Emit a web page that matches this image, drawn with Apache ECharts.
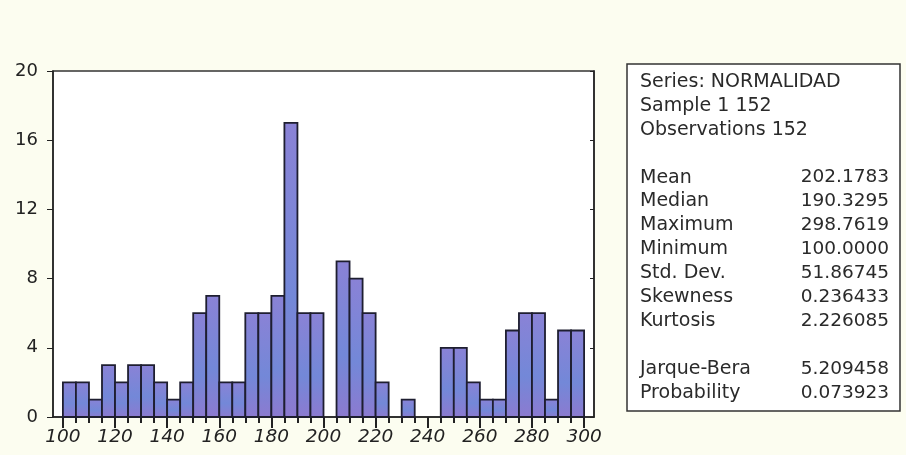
<!DOCTYPE html>
<html>
<head>
<meta charset="utf-8">
<script src="https://cdn.jsdelivr.net/npm/echarts@6/dist/echarts.min.js"></script>
<style>
  html, body { margin: 0; padding: 0; background: #fcfdf0; }
  #chart { width: 906px; height: 455px; }
</style>
</head>
<body>
<div id="chart"></div>
<script>
// histogram bins: 100..300, width 5
const binStart = 100
const binWidth = 5
const counts = [2, 2, 1, 3, 2, 3, 3, 2, 1, 2,
                6, 7, 2, 2, 6, 6, 7, 17, 6, 6,
                0, 9, 8, 6, 2, 0, 1, 0, 0, 4,
                4, 2, 1, 1, 5, 6, 6, 1, 5, 5]
const xLabelTicks = [100, 120, 140, 160, 180, 200, 220, 240, 260, 280, 300]
const yLabelTicks = [0, 4, 8, 12, 16, 20]

// stats box
const statHeader = ['Series: NORMALIDAD', 'Sample 1 152', 'Observations 152']
const statNames = ['Mean', 'Median', 'Maximum', 'Minimum', 'Std. Dev.', 'Skewness', 'Kurtosis', '', 'Jarque-Bera', 'Probability']
const statValues = ['202.1783', '190.3295', '298.7619', '100.0000', '51.86745', '0.236433', '2.226085', '', '5.209458', '0.073923']

const bins = counts.map((c, i) => [binStart + i * binWidth, binStart + (i + 1) * binWidth, c])
const minorTicks = counts.map((c, i) => binStart + i * binWidth).concat([binStart + counts.length * binWidth])

const font = '"DejaVu Sans", Verdana, sans-serif'
const chart = echarts.init(document.getElementById('chart'))

const graphics = [{
  type: 'rect',
  shape: { x: 627, y: 64, width: 273, height: 347 },
  style: { fill: '#ffffff', stroke: '#333', lineWidth: 1.5 }
}]
const lineH = 23.9
const rows = statHeader.map(t => [t, '']).concat([['', '']]).concat(statNames.map((n, i) => [n, statValues[i]]))
rows.forEach((r, i) => {
  const y = 82 + i * lineH
  if (r[0]) graphics.push({ type: 'text', x: 640, y: y, style: { text: r[0], font: '19px ' + font, fill: '#2a2a2a', verticalAlign: 'middle' } })
  if (r[1]) graphics.push({ type: 'text', x: 889, y: y, style: { text: r[1], font: '18.5px ' + font, fill: '#2a2a2a', align: 'right', verticalAlign: 'middle' } })
})

chart.setOption({
  backgroundColor: '#fcfdf0',
  animation: false,
  grid: { left: 53, right: 312, top: 71, bottom: 38, show: true, backgroundColor: '#fff', borderColor: '#333', borderWidth: 1.5 },
  xAxis: [{
    type: 'value', min: 96.2, max: 303.8,
    axisLine: { lineStyle: { color: '#222', width: 1.5 } },
    axisTick: { length: 11, lineStyle: { color: '#222', width: 2 }, customValues: xLabelTicks },
    axisLabel: { customValues: xLabelTicks, margin: 11, fontSize: 18.5, fontStyle: 'italic', color: '#222', fontFamily: font },
    splitLine: { show: false }
  }, {
    type: 'value', min: 96.2, max: 303.8, position: 'bottom',
    axisLine: { show: false },
    axisTick: { length: 6, lineStyle: { color: '#222', width: 2 }, customValues: minorTicks },
    axisLabel: { show: false },
    splitLine: { show: false }
  }],
  yAxis: [{
    type: 'value', min: 0, max: 20, interval: 4,
    axisLine: { show: true, lineStyle: { color: '#222', width: 1.5 } },
    axisTick: { show: true, length: 6, lineStyle: { color: '#222' } },
    axisLabel: { margin: 15, fontSize: 18, color: '#222', fontFamily: font,
      formatter: v => yLabelTicks.includes(v) ? String(v) : '' },
    splitLine: { show: false }
  }, {
    type: 'value', min: 0, max: 20, interval: 4, position: 'right',
    axisLine: { show: true, lineStyle: { color: '#222', width: 1.5 } },
    axisTick: { show: true, inside: true, length: 4, lineStyle: { color: '#222' } },
    axisLabel: { show: false },
    splitLine: { show: false }
  }],
  series: [{
    type: 'custom',
    xAxisIndex: 0,
    yAxisIndex: 0,
    data: bins,
    renderItem: (params, api) => {
      if (!api.value(2)) return null
      const p0 = api.coord([api.value(0), 0])
      const p1 = api.coord([api.value(1), api.value(2)])
      return {
        type: 'rect',
        shape: { x: p0[0], y: p1[1], width: p1[0] - p0[0], height: p0[1] - p1[1] },
        style: {
          fill: new echarts.graphic.LinearGradient(0, 0, 0, 1, [
            { offset: 0, color: '#8a82d6' },
            { offset: 0.6, color: '#7388d8' },
            { offset: 1, color: '#8c7ad0' }
          ]),
          stroke: '#1e1e30', lineWidth: 1.8
        }
      }
    }
  }],
  graphic: graphics
})
</script>
</body>
</html>
